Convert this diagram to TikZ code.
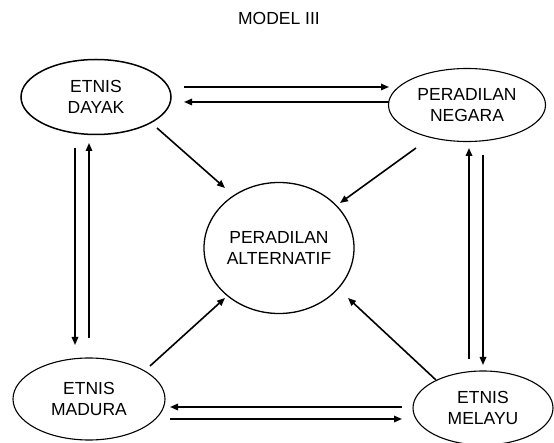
\documentclass[tikz,border=0pt]{standalone}
\usepackage{fontspec}
\setmainfont{Liberation Sans}
\usetikzlibrary{shapes.geometric,arrows.meta}
\begin{document}
\begin{tikzpicture}[x=1pt,y=-1pt,
  oval/.style={draw,ellipse,line width=1.1pt,inner sep=0pt,align=center,
    font=\fontsize{17.5}{21}\selectfont},
  arr/.style={line width=1.6pt,-{Triangle[length=8pt,width=6.5pt]}}]
\useasboundingbox (0,0) rectangle (554,443);
\node[font=\fontsize{17.5}{21}\selectfont] (title) at (279,18) {MODEL III};
\node[oval,minimum width=150pt,minimum height=75pt,line width=1.5pt] (dayak) at (96,97) {ETNIS\\DAYAK};
\node[oval,minimum width=157pt,minimum height=73pt] (negara) at (467,105) {PERADILAN\\NEGARA};
\node[oval,minimum width=152pt,minimum height=82pt] (madura) at (89,399) {ETNIS\\MADURA};
\node[oval,minimum width=140pt,minimum height=74pt] (melayu) at (483,408) {ETNIS\\MELAYU};
\node[oval,minimum width=150pt,minimum height=131pt,line width=1.3pt] (alt) at (279,248) {PERADILAN\\ALTERNATIF};
% top pair
\coordinate (t1) at (184,87); \coordinate (t2) at (389,87);
\coordinate (t3) at (389,102); \coordinate (t4) at (184,102);
\draw[arr] (t1) -- (t2);
\draw[arr] (t3) -- (t4);
% bottom pair
\coordinate (b1) at (402,407); \coordinate (b2) at (170,407);
\coordinate (b3) at (170,419); \coordinate (b4) at (402,419);
\draw[arr] (b1) -- (b2);
\draw[arr] (b3) -- (b4);
% left pair
\coordinate (l1) at (75,148); \coordinate (l2) at (75,345);
\coordinate (l3) at (89,338); \coordinate (l4) at (89,143);
\draw[arr] (l1) -- (l2);
\draw[arr] (l3) -- (l4);
% right pair
\coordinate (r1) at (469,359); \coordinate (r2) at (469,148);
\coordinate (r3) at (483,155); \coordinate (r4) at (483,365);
\draw[arr] (r1) -- (r2);
\draw[arr] (r3) -- (r4);
% diagonals
\coordinate (d1) at (157,128); \coordinate (d2) at (225,188);
\coordinate (n1) at (416,148); \coordinate (n2) at (340,203);
\coordinate (m1) at (150,366); \coordinate (m2) at (225,298);
\coordinate (y1) at (436,380); \coordinate (y2) at (348,298);
\draw[arr] (d1) -- (d2);
\draw[arr] (n1) -- (n2);
\draw[arr] (m1) -- (m2);
\draw[arr] (y1) -- (y2);
\end{tikzpicture}
\end{document}
